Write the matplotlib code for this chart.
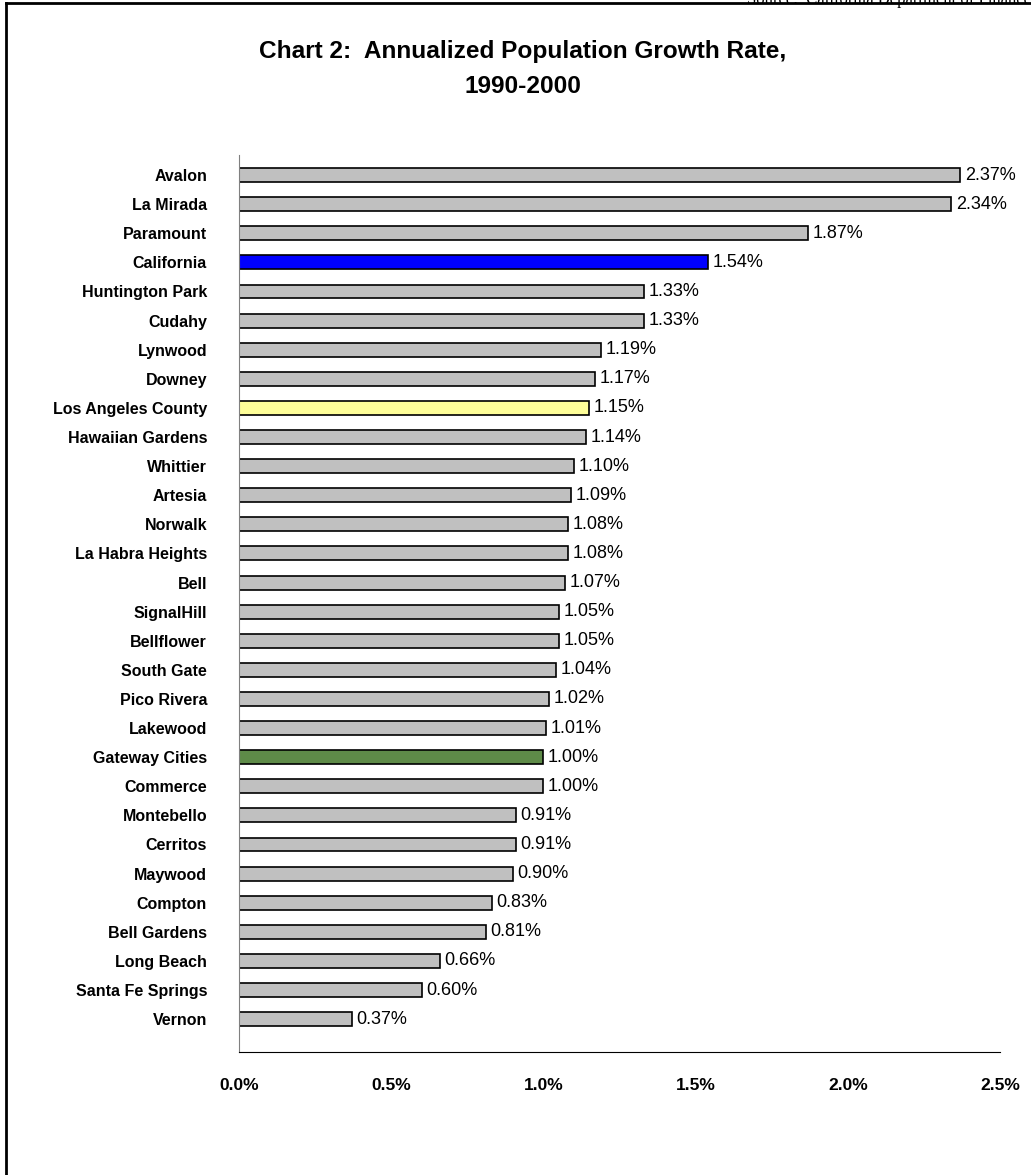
import matplotlib
matplotlib.use('Agg')
import matplotlib.pyplot as plt
from matplotlib.ticker import FuncFormatter

plt.rcParams['font.family'] = ['Liberation Sans', 'DejaVu Sans']

# data, top to bottom as in the chart
places = ['Avalon', 'La Mirada', 'Paramount', 'California', 'Huntington Park', 'Cudahy',
          'Lynwood', 'Downey', 'Los Angeles County', 'Hawaiian Gardens', 'Whittier',
          'Artesia', 'Norwalk', 'La Habra Heights', 'Bell', 'SignalHill', 'Bellflower',
          'South Gate', 'Pico Rivera', 'Lakewood', 'Gateway Cities', 'Commerce',
          'Montebello', 'Cerritos', 'Maywood', 'Compton', 'Bell Gardens', 'Long Beach',
          'Santa Fe Springs', 'Vernon']
growth = [2.37, 2.34, 1.87, 1.54, 1.33, 1.33, 1.19, 1.17, 1.15, 1.14, 1.10, 1.09, 1.08,
          1.08, 1.07, 1.05, 1.05, 1.04, 1.02, 1.01, 1.00, 1.00, 0.91, 0.91, 0.90, 0.83,
          0.81, 0.66, 0.60, 0.37]
special = {'California': '#0000FF', 'Los Angeles County': '#FFFF99', 'Gateway Cities': '#5E8B48'}
colors = [special.get(p, '#C0C0C0') for p in places]

fig = plt.figure(figsize=(10.31, 11.75), dpi=100)
ax = fig.add_axes([239/1031, 1 - 1052/1175, (1000-239)/1031, (1052-155)/1175])

ypos = list(range(len(places)))
ax.barh(ypos, growth, height=0.48, color=colors, edgecolor='black', linewidth=1.2)
for y, v in zip(ypos, growth):
    ax.text(v + 0.015, y, f'{v:.2f}%', va='center', ha='left', fontsize=13)

ax.set_ylim(len(places) - 1 + 1.13, -0.69)
ax.set_xlim(0, 2.5)
ax.set_yticks(ypos)
ax.set_yticklabels(places, fontsize=11.5, fontweight='bold')
ax.set_xticks([0, 0.5, 1.0, 1.5, 2.0, 2.5])
ax.xaxis.set_major_formatter(FuncFormatter(lambda v, p: f'{v:.1f}%'))
for t in ax.get_xticklabels():
    t.set_fontweight('bold')
    t.set_fontsize(12.5)
ax.tick_params(axis='y', length=0, pad=23)
ax.tick_params(axis='x', length=0, pad=19)
ax.spines['top'].set_visible(False)
ax.spines['right'].set_visible(False)
ax.spines['left'].set_color('#808080')
ax.spines['bottom'].set_color('black')

fig.text(523/1031, 1 - 69/1175, 'Chart 2:  Annualized Population Growth Rate,\n1990-2000',
         ha='center', va='center', fontsize=17.6, fontweight='bold', linespacing=1.65)

# clipped source note at the very top and the outer frame
fig.text(1.0, 1.0, 'Source:  California Department of Finance', ha='right', va='center',
         fontsize=12, family='Liberation Serif')
fig.add_artist(plt.Line2D([6/1031, 6/1031], [0, 1 - 3/1175], transform=fig.transFigure,
                          color='black', linewidth=2))
fig.add_artist(plt.Line2D([6/1031, 1], [1 - 3/1175, 1 - 3/1175], transform=fig.transFigure,
                          color='black', linewidth=2))

fig.savefig('out.png', dpi=100)
